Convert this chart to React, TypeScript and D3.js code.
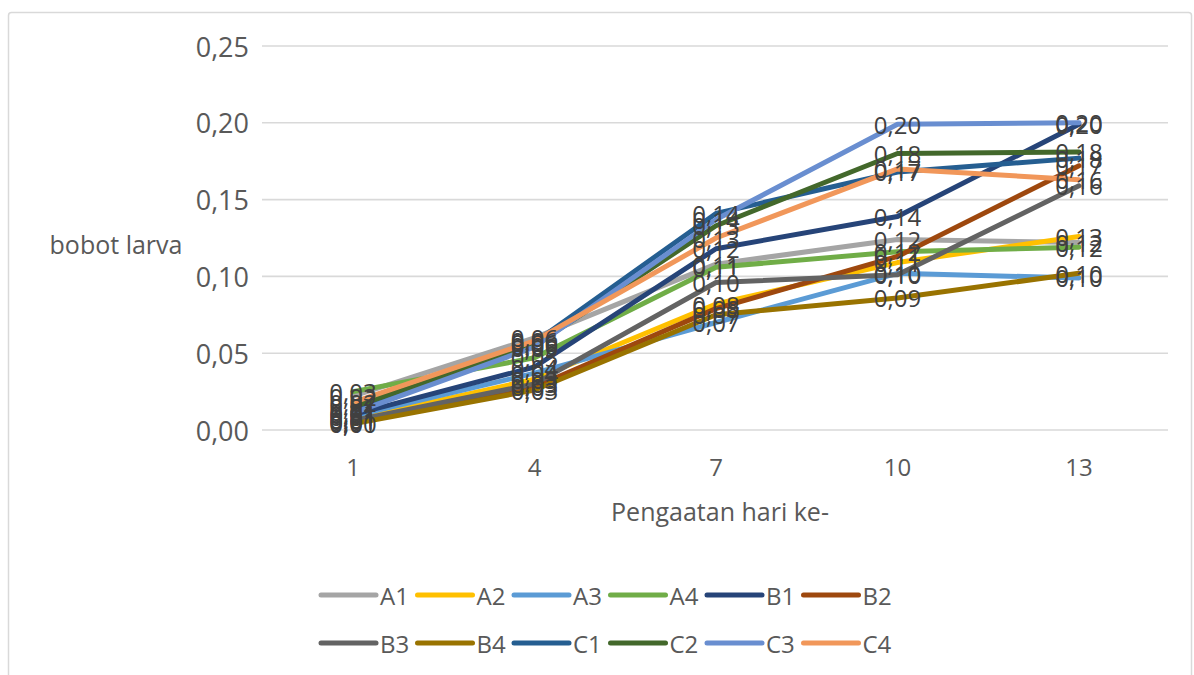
import React from "react";
import * as d3 from "d3";

const days = [1, 4, 7, 10, 13];
const seriesNames = ["A1", "A2", "A3", "A4", "B1", "B2", "B3", "B4", "C1", "C2", "C3", "C4"];
const seriesColors = ["#A5A5A5", "#FFC000", "#5B9BD5", "#70AD47", "#264478", "#9E480E", "#636363", "#997300", "#255E91", "#43682B", "#698ED0", "#F1975A"];

const A1 = [0.022, 0.060, 0.108, 0.124, 0.122];
const A2 = [0.007, 0.033, 0.082, 0.109, 0.126];
const A3 = [0.009, 0.037, 0.070, 0.102, 0.099];
const A4 = [0.025, 0.047, 0.106, 0.116, 0.119];
const B1 = [0.010, 0.041, 0.118, 0.139, 0.199];
const B2 = [0.005, 0.028, 0.079, 0.113, 0.172];
const B3 = [0.006, 0.030, 0.096, 0.101, 0.159];
const B4 = [0.004, 0.026, 0.075, 0.086, 0.102];
const C1 = [0.012, 0.057, 0.141, 0.168, 0.177];
const C2 = [0.015, 0.055, 0.133, 0.180, 0.181];
const C3 = [0.011, 0.054, 0.137, 0.199, 0.200];
const C4 = [0.018, 0.058, 0.125, 0.170, 0.163];
const seriesValues = [A1, A2, A3, A4, B1, B2, B3, B4, C1, C2, C3, C4];

const yTicks = [0, 0.05, 0.1, 0.15, 0.2, 0.25];

const FONT = "'Open Sans', sans-serif";
const fmt = (v: number) => v.toFixed(2).replace(".", ",");

export default function App() {
  const W = 1194, H = 675;
  const plotLeft = 262, plotRight = 1168;
  const x = d3.scalePoint<number>().domain(days).range([353, 1079]);
  const y = d3.scaleLinear().domain([0, 0.25]).range([430, 46]);
  const line = d3.line<number>().x((_, i) => x(days[i]) as number).y((v) => y(v));

  const legendX0 = 321, legendStep = 96.5;
  const legendRows = [595, 643];

  return (
    <svg width={W} height={H} style={{ position: "absolute", left: 0, top: 0, display: "block", background: "#fff" }}>
      <rect x={8.5} y={12.5} width={1183} height={700} fill="#fff" stroke="#D9D9D9" strokeWidth={1.5} rx={3} />
      {yTicks.map((t) => (
        <g key={t}>
          <line x1={plotLeft} x2={plotRight} y1={y(t)} y2={y(t)} stroke="#D9D9D9" strokeWidth={1.6} />
          <text x={249} y={y(t)} textAnchor="end" dominantBaseline="central" fontFamily={FONT} fontSize={27} fill="#595959">
            {fmt(t)}
          </text>
        </g>
      ))}
      {days.map((d) => (
        <text key={d} x={x(d)} y={466} textAnchor="middle" dominantBaseline="central" fontFamily={FONT} fontSize={24} fill="#595959">
          {d}
        </text>
      ))}
      <text x={720} y={511} textAnchor="middle" dominantBaseline="central" fontFamily={FONT} fontSize={25} fill="#595959">
        Pengaatan hari ke-
      </text>
      <text x={116} y={244} textAnchor="middle" dominantBaseline="central" fontFamily={FONT} fontSize={25} fill="#595959">
        bobot larva
      </text>
      {seriesValues.map((vals, si) => (
        <path key={seriesNames[si]} d={line(vals) || ""} fill="none" stroke={seriesColors[si]} strokeWidth={5} strokeLinejoin="round" strokeLinecap="round" />
      ))}
      {seriesValues.map((vals, si) =>
        vals.map((v, i) => (
          <text key={seriesNames[si] + i} x={x(days[i])} y={y(v)} textAnchor="middle" dominantBaseline="central" fontFamily={FONT} fontSize={24} fill="#404040">
            {fmt(v)}
          </text>
        ))
      )}
      {seriesNames.map((name, si) => {
        const row = Math.floor(si / 6);
        const col = si % 6;
        const lx = legendX0 + col * legendStep;
        const ly = legendRows[row];
        return (
          <g key={name}>
            <line x1={lx} x2={lx + 55} y1={ly} y2={ly} stroke={seriesColors[si]} strokeWidth={5} strokeLinecap="round" />
            <text x={lx + 59} y={ly} dominantBaseline="central" fontFamily={FONT} fontSize={24} fill="#595959">
              {name}
            </text>
          </g>
        );
      })}
    </svg>
  );
}
